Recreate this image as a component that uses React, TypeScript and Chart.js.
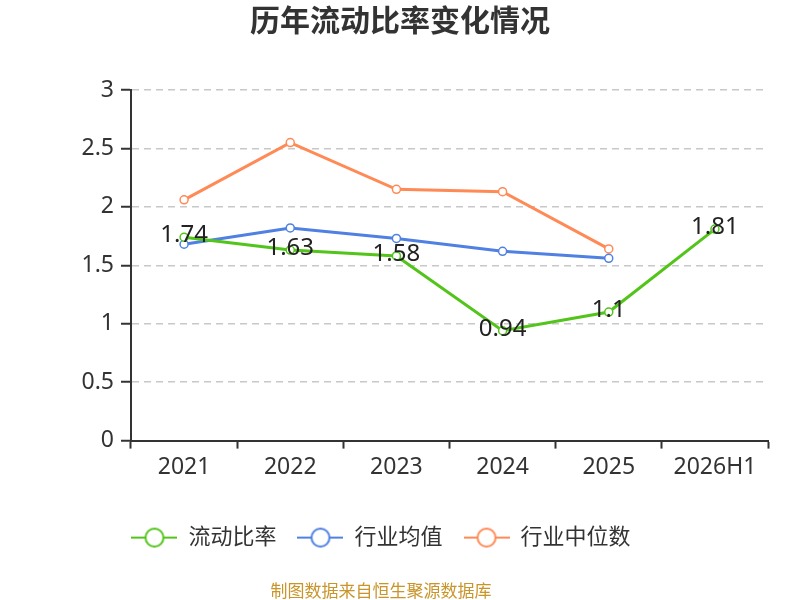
import { useEffect, useRef } from "react"
import { Chart, registerables } from "chart.js"

Chart.register(...registerables)

const years = ["2021", "2022", "2023", "2024", "2025", "2026H1"]
const currentRatio = [1.74, 1.63, 1.58, 0.94, 1.1, 1.81]
const industryAvg = [1.68, 1.82, 1.73, 1.62, 1.56, null]
const industryMedian = [2.06, 2.55, 2.15, 2.13, 1.64, null]
const seriesNames = ["流动比率", "行业均值", "行业中位数"]
const seriesColors = ["#52c41a", "#4f80e2", "#ff8a56"]
const chartTitle = "历年流动比率变化情况"
const sourceNote = "制图数据来自恒生聚源数据库"

const FONT = '"Noto Sans", "Noto Sans CJK SC", sans-serif'

// 범례용 마커: 선 + 흰 원
function makeMarker(color: string) {
  const c = document.createElement("canvas")
  c.width = 46
  c.height = 22
  const ctx = c.getContext("2d")!
  ctx.strokeStyle = color
  ctx.lineWidth = 2
  ctx.beginPath()
  ctx.moveTo(0, 11)
  ctx.lineTo(46, 11)
  ctx.stroke()
  ctx.beginPath()
  ctx.arc(23, 11, 9, 0, Math.PI * 2)
  ctx.fillStyle = "#fff"
  ctx.fill()
  ctx.stroke()
  return c
}

// 첫 번째 시리즈 값 라벨 + 캔버스 중앙 제목
const valueLabels = {
  id: "valueLabels",
  afterDatasetsDraw(chart: Chart) {
    const meta = chart.getDatasetMeta(0)
    const ctx = chart.ctx
    ctx.save()
    ctx.font = `24px ${FONT}`
    ctx.fillStyle = "#222"
    ctx.textAlign = "center"
    ctx.textBaseline = "middle"
    meta.data.forEach((pt: any, i: number) => {
      ctx.fillText(String(currentRatio[i]), pt.x, pt.y - 2)
    })
    ctx.font = `bold 30px ${FONT}`
    ctx.fillStyle = "#333"
    ctx.fillText(chartTitle, chart.width / 2, 22)
    ctx.restore()
  },
}

export default function App() {
  const chartRef = useRef<HTMLCanvasElement>(null)
  const chartInstance = useRef<Chart | null>(null)

  useEffect(() => {
    if (!chartRef.current) return
    if (chartInstance.current) chartInstance.current.destroy()

    const markers = seriesColors.map(makeMarker)
    const values = [currentRatio, industryAvg, industryMedian]

    const datasets = values.map((data, i) => ({
      label: seriesNames[i],
      data,
      borderColor: seriesColors[i],
      backgroundColor: "#fff",
      pointBackgroundColor: "#fff",
      pointBorderColor: seriesColors[i],
      pointBorderWidth: 1.5,
      pointRadius: 4,
      borderWidth: 3,
      tension: 0,
      fill: false,
    }))

    chartInstance.current = new Chart(chartRef.current, {
      type: "line",
      data: { labels: years, datasets },
      plugins: [valueLabels],
      options: {
        responsive: false,
        animation: false,
        font: { family: FONT },
        layout: { padding: { left: -6, right: 32, top: 90, bottom: -2 } },
        plugins: {
          title: { display: false },
          subtitle: {
            display: true,
            text: sourceNote,
            position: "bottom",
            color: "#c9952b",
            font: { size: 17, family: FONT },
            padding: { top: 23, bottom: 0 },
          },
          legend: {
            position: "bottom",
            labels: {
              usePointStyle: true,
              pointStyleWidth: 46,
              padding: 21,
              color: "#333",
              font: { size: 22, family: FONT },
              generateLabels: (chart: Chart) =>
                chart.data.datasets.map((ds: any, i: number) => ({
                  text: ds.label,
                  pointStyle: markers[i],
                  fillStyle: seriesColors[i],
                  strokeStyle: seriesColors[i],
                  lineWidth: 0,
                  hidden: false,
                  datasetIndex: i,
                  fontColor: "#333",
                })),
            },
          },
          tooltip: { enabled: false },
        },
        scales: {
          x: {
            offset: true,
            grid: {
              display: true,
              offset: true,
              drawOnChartArea: false,
              drawTicks: true,
              tickLength: 8,
              tickColor: "#333",
              tickWidth: 2,
            },
            border: { display: true, color: "#333", width: 2 },
            ticks: { color: "#333", font: { size: 23, family: FONT }, padding: 5 },
            afterFit: (scale: any) => {
              scale.height += 19.4
            },
          },
          y: {
            min: 0,
            max: 3,
            ticks: {
              stepSize: 0.5,
              color: "#333",
              font: { size: 23, family: FONT },
              padding: 7,
              callback: (v: any) => String(v),
            },
            grid: {
              color: "#c8c8c8",
              lineWidth: 1.5,
              tickColor: "#333",
              tickLength: 10,
              tickWidth: 2,
            },
            border: { display: true, color: "#333", width: 2, dash: [7, 5] },
            afterFit: (scale: any) => {
              scale.width = 137
            },
          },
        },
      },
    })

    return () => {
      if (chartInstance.current) {
        chartInstance.current.destroy()
        chartInstance.current = null
      }
    }
  }, [])

  return (
    <div style={{ position: "absolute", left: 0, top: 0, width: 800, height: 600, background: "#fff" }}>
      <canvas ref={chartRef} width={800} height={600} />
    </div>
  )
}
